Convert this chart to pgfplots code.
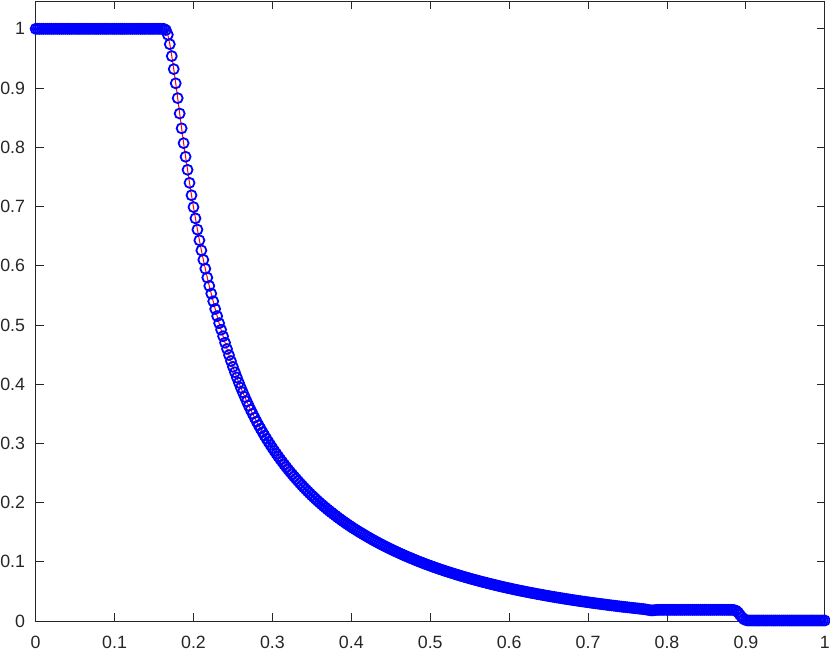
\documentclass[border=0pt]{standalone}
\usepackage{pgfplots}
\usepackage{pgfplotstable}
\pgfplotsset{compat=1.18}
\usepackage{fontspec}
\setmainfont{Liberation Sans}
\definecolor{axgray}{RGB}{38,38,38}
\pgfplotstableread[row sep=\\]{
x y\\
0 1\\ 0.0025 1\\ 0.005 1\\ 0.0075 1\\
0.01 1\\ 0.0125 1\\ 0.015 1\\ 0.0175 1\\
0.02 1\\ 0.0225 1\\ 0.025 1\\ 0.0275 1\\
0.03 1\\ 0.0325 1\\ 0.035 1\\ 0.0375 1\\
0.04 1\\ 0.0425 1\\ 0.045 1\\ 0.0475 1\\
0.05 1\\ 0.0525 1\\ 0.055 1\\ 0.0575 1\\
0.06 1\\ 0.0625 1\\ 0.065 1\\ 0.0675 1\\
0.07 1\\ 0.0725 1\\ 0.075 1\\ 0.0775 1\\
0.08 1\\ 0.0825 1\\ 0.085 1\\ 0.0875 1\\
0.09 1\\ 0.0925 1\\ 0.095 1\\ 0.0975 1\\
0.10 1\\ 0.1025 1\\ 0.105 1\\ 0.1075 1\\
0.11 1\\ 0.1125 1\\ 0.115 1\\ 0.1175 1\\
0.12 1\\ 0.1225 1\\ 0.125 1\\ 0.1275 1\\
0.13 1\\ 0.1325 1\\ 0.135 1\\ 0.1375 1\\
0.14 1\\ 0.1425 1\\ 0.145 1\\ 0.1475 1\\
0.15 1\\ 0.1525 1\\ 0.155 1\\ 0.1575 1\\
0.16 1\\ 0.1625 1\\ 0.165 0.998\\ 0.1675 0.990\\
0.17 0.974\\ 0.1725 0.954\\ 0.175 0.932\\ 0.1775 0.908\\
0.18 0.883\\ 0.1825 0.857\\ 0.185 0.832\\ 0.1875 0.807\\
0.19 0.784\\ 0.1925 0.762\\ 0.195 0.740\\ 0.1975 0.719\\
0.20 0.699\\ 0.2025 0.680\\ 0.205 0.661\\ 0.2075 0.643\\
0.21 0.626\\ 0.2125 0.610\\ 0.215 0.595\\ 0.2175 0.580\\
0.22 0.566\\ 0.2225 0.553\\ 0.225 0.540\\ 0.2275 0.527\\
0.23 0.515\\ 0.2325 0.503\\ 0.235 0.492\\ 0.2375 0.481\\
0.24 0.470\\ 0.2425 0.4595\\ 0.245 0.4492\\ 0.2475 0.4391\\
0.25 0.4293\\ 0.2525 0.4202\\ 0.255 0.4113\\ 0.2575 0.4026\\
0.26 0.3941\\ 0.2625 0.3863\\ 0.265 0.3786\\ 0.2675 0.3710\\
0.27 0.3636\\ 0.2725 0.3567\\ 0.275 0.3500\\ 0.2775 0.3434\\
0.28 0.3369\\ 0.2825 0.3308\\ 0.285 0.3249\\ 0.2875 0.3191\\
0.29 0.3133\\ 0.2925 0.3079\\ 0.295 0.3026\\ 0.2975 0.2974\\
0.30 0.2923\\ 0.3025 0.2874\\ 0.305 0.2826\\ 0.3075 0.2779\\
0.31 0.2733\\ 0.3125 0.2689\\ 0.315 0.2645\\ 0.3175 0.2602\\
0.32 0.2560\\ 0.3225 0.2519\\ 0.325 0.2480\\ 0.3275 0.2440\\
0.33 0.2402\\ 0.3325 0.2365\\ 0.335 0.2328\\ 0.3375 0.2292\\
0.34 0.2256\\ 0.3425 0.2222\\ 0.345 0.2188\\ 0.3475 0.2155\\
0.35 0.2122\\ 0.3525 0.2091\\ 0.355 0.2060\\ 0.3575 0.2029\\
0.36 0.1999\\ 0.3625 0.1970\\ 0.365 0.1941\\ 0.3675 0.1913\\
0.37 0.1885\\ 0.3725 0.1858\\ 0.375 0.1832\\ 0.3775 0.1806\\
0.38 0.1780\\ 0.3825 0.1755\\ 0.385 0.1730\\ 0.3875 0.1706\\
0.39 0.1682\\ 0.3925 0.1659\\ 0.395 0.1636\\ 0.3975 0.1613\\
0.40 0.1591\\ 0.4025 0.1569\\ 0.405 0.1548\\ 0.4075 0.1527\\
0.41 0.1506\\ 0.4125 0.1487\\ 0.415 0.1467\\ 0.4175 0.1447\\
0.42 0.1427\\ 0.4225 0.1408\\ 0.425 0.1389\\ 0.4275 0.1370\\
0.43 0.1352\\ 0.4325 0.1334\\ 0.435 0.1316\\ 0.4375 0.1299\\
0.44 0.1281\\ 0.4425 0.1264\\ 0.445 0.1248\\ 0.4475 0.1231\\
0.45 0.1215\\ 0.4525 0.1199\\ 0.455 0.1183\\ 0.4575 0.1168\\
0.46 0.1152\\ 0.4625 0.1137\\ 0.465 0.1122\\ 0.4675 0.1107\\
0.47 0.1093\\ 0.4725 0.1079\\ 0.475 0.1065\\ 0.4775 0.1051\\
0.48 0.1037\\ 0.4825 0.1024\\ 0.485 0.1010\\ 0.4875 0.0997\\
0.49 0.0984\\ 0.4925 0.0971\\ 0.495 0.0959\\ 0.4975 0.0946\\
0.50 0.0934\\ 0.5025 0.0922\\ 0.505 0.0910\\ 0.5075 0.0898\\
0.51 0.0887\\ 0.5125 0.0875\\ 0.515 0.0864\\ 0.5175 0.0853\\
0.52 0.0842\\ 0.5225 0.0831\\ 0.525 0.0820\\ 0.5275 0.0810\\
0.53 0.0800\\ 0.5325 0.0789\\ 0.535 0.0779\\ 0.5375 0.0769\\
0.54 0.0759\\ 0.5425 0.0749\\ 0.545 0.0740\\ 0.5475 0.0730\\
0.55 0.0720\\ 0.5525 0.0711\\ 0.555 0.0702\\ 0.5575 0.0693\\
0.56 0.0684\\ 0.5625 0.0675\\ 0.565 0.0666\\ 0.5675 0.0658\\
0.57 0.0649\\ 0.5725 0.0641\\ 0.575 0.0632\\ 0.5775 0.0624\\
0.58 0.0616\\ 0.5825 0.0608\\ 0.585 0.0600\\ 0.5875 0.0592\\
0.59 0.0584\\ 0.5925 0.0576\\ 0.595 0.0569\\ 0.5975 0.0561\\
0.60 0.0554\\ 0.6025 0.0547\\ 0.605 0.0539\\ 0.6075 0.0532\\
0.61 0.0525\\ 0.6125 0.0518\\ 0.615 0.0511\\ 0.6175 0.0505\\
0.62 0.0498\\ 0.6225 0.0491\\ 0.625 0.0485\\ 0.6275 0.0478\\
0.63 0.0472\\ 0.6325 0.0466\\ 0.635 0.0459\\ 0.6375 0.0453\\
0.64 0.0447\\ 0.6425 0.0441\\ 0.645 0.0435\\ 0.6475 0.0429\\
0.65 0.0423\\ 0.6525 0.0417\\ 0.655 0.0411\\ 0.6575 0.0406\\
0.66 0.0400\\ 0.6625 0.0395\\ 0.665 0.0389\\ 0.6675 0.0384\\
0.67 0.0378\\ 0.6725 0.0373\\ 0.675 0.0368\\ 0.6775 0.0363\\
0.68 0.0357\\ 0.6825 0.0352\\ 0.685 0.0347\\ 0.6875 0.0342\\
0.69 0.0337\\ 0.6925 0.0332\\ 0.695 0.0328\\ 0.6975 0.0323\\
0.70 0.0318\\ 0.7025 0.0313\\ 0.705 0.0309\\ 0.7075 0.0304\\
0.71 0.0300\\ 0.7125 0.0295\\ 0.715 0.0291\\ 0.7175 0.0286\\
0.72 0.0282\\ 0.7225 0.0278\\ 0.725 0.0273\\ 0.7275 0.0269\\
0.73 0.0265\\ 0.7325 0.0261\\ 0.735 0.0257\\ 0.7375 0.0252\\
0.74 0.0248\\ 0.7425 0.0244\\ 0.745 0.0240\\ 0.7475 0.0237\\
0.75 0.0233\\ 0.7525 0.0229\\ 0.755 0.0225\\ 0.7575 0.0221\\
0.76 0.0218\\ 0.7625 0.0214\\ 0.765 0.0210\\ 0.7675 0.0207\\
0.77 0.0203\\ 0.7725 0.0198\\ 0.775 0.0192\\ 0.7775 0.0186\\
0.78 0.0181\\ 0.7825 0.0182\\ 0.785 0.0186\\ 0.7875 0.0189\\
0.79 0.0190\\ 0.7925 0.0190\\ 0.795 0.0190\\ 0.7975 0.0190\\
0.80 0.0190\\ 0.8025 0.0190\\ 0.805 0.0190\\ 0.8075 0.0190\\
0.81 0.0190\\ 0.8125 0.0190\\ 0.815 0.0190\\ 0.8175 0.0190\\
0.82 0.0190\\ 0.8225 0.0190\\ 0.825 0.0190\\ 0.8275 0.0190\\
0.83 0.0190\\ 0.8325 0.0190\\ 0.835 0.0190\\ 0.8375 0.0190\\
0.84 0.0190\\ 0.8425 0.0190\\ 0.845 0.0190\\ 0.8475 0.0190\\
0.85 0.0190\\ 0.8525 0.0190\\ 0.855 0.0190\\ 0.8575 0.0190\\
0.86 0.0190\\ 0.8625 0.0190\\ 0.865 0.0190\\ 0.8675 0.0190\\
0.87 0.0190\\ 0.8725 0.0190\\ 0.875 0.0190\\ 0.8775 0.0190\\
0.88 0.0190\\ 0.8825 0.0190\\ 0.885 0.0187\\ 0.8875 0.0176\\
0.89 0.0148\\ 0.8925 0.0105\\ 0.895 0.0065\\ 0.8975 0.0032\\
0.90 0.0016\\ 0.9025 0.0011\\ 0.905 0.001\\ 0.9075 0.001\\
0.91 0.001\\ 0.9125 0.001\\ 0.915 0.001\\ 0.9175 0.001\\
0.92 0.001\\ 0.9225 0.001\\ 0.925 0.001\\ 0.9275 0.001\\
0.93 0.001\\ 0.9325 0.001\\ 0.935 0.001\\ 0.9375 0.001\\
0.94 0.001\\ 0.9425 0.001\\ 0.945 0.001\\ 0.9475 0.001\\
0.95 0.001\\ 0.9525 0.001\\ 0.955 0.001\\ 0.9575 0.001\\
0.96 0.001\\ 0.9625 0.001\\ 0.965 0.001\\ 0.9675 0.001\\
0.97 0.001\\ 0.9725 0.001\\ 0.975 0.001\\ 0.9775 0.001\\
0.98 0.001\\ 0.9825 0.001\\ 0.985 0.001\\ 0.9875 0.001\\
0.99 0.001\\ 0.9925 0.001\\ 0.995 0.001\\ 0.9975 0.001\\
1.0 0.001\\
}\profile
\begin{document}
\begin{tikzpicture}
\begin{axis}[
  scale only axis,
  width=395.15pt, height=310.5pt,
  xmin=0, xmax=1, ymin=0, ymax=1.047,
  xtick={0,0.1,0.2,0.3,0.4,0.5,0.6,0.7,0.8,0.9,1},
  ytick={0,0.1,0.2,0.3,0.4,0.5,0.6,0.7,0.8,0.9,1},
  xticklabels={0,0.1,0.2,0.3,0.4,0.5,0.6,0.7,0.8,0.9,1},
  yticklabels={0,0.1,0.2,0.3,0.4,0.5,0.6,0.7,0.8,0.9,1},
  tick align=inside,
  major tick length=4pt,
  axis line style={draw=axgray, line width=0.4pt},
  tick style={draw=axgray, line width=0.4pt},
  ticklabel style={font=\fontsize{8.9}{10}\selectfont, text=axgray},
  xticklabel style={yshift=-4.2pt},
  yticklabel style={xshift=-1.8pt},
  /pgf/number format/assume math mode=true,
  clip=false,
]
\addplot[red, line width=0.5pt] table[x=x, y=y] {\profile};
\addplot[only marks, mark=o, mark size=2.5pt, blue, mark options={line width=0.9pt}] table[x=x, y=y] {\profile};
\end{axis}
\pgfresetboundingbox
\useasboundingbox ([xshift=-17.85pt, yshift=-15pt]current axis.south west) rectangle ([xshift=2.6pt, yshift=0.5pt]current axis.north east);
\end{tikzpicture}
\end{document}
